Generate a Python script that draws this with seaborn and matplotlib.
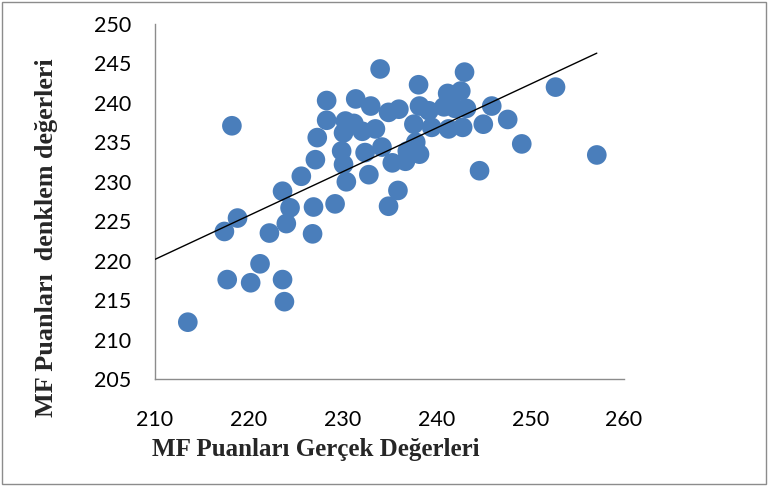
import numpy as np
import matplotlib
matplotlib.use("Agg")
import matplotlib.pyplot as plt
import seaborn as sns
from matplotlib.patches import Rectangle

# MF Puanları: gerçek değerler (x) ve denklem değerleri (y)
gercek = [213.5, 217.7, 220.2, 223.6, 223.8, 221.2, 217.4, 218.8, 222.2, 224.0,
          224.4, 226.8, 226.9, 229.2, 223.6, 225.6, 218.2, 227.1, 227.3, 228.3,
          228.3, 230.4, 230.1, 229.9, 230.1, 230.3, 231.2, 232.1, 231.4, 233.0,
          234.0, 233.5, 232.4, 232.8, 234.2, 234.9, 235.9, 235.3, 236.7, 236.9,
          237.8, 238.2, 234.9, 236.0, 238.1, 237.6, 238.2, 239.2, 239.5, 240.8,
          241.2, 242.6, 242.0, 243.2, 243.0, 241.3, 242.8, 245.0, 245.9, 247.6,
          249.1, 244.6, 252.7, 257.1]
denklem = [212.2, 217.6, 217.2, 217.6, 214.8, 219.6, 223.7, 225.4, 223.5, 224.7,
           226.7, 223.4, 226.8, 227.2, 228.8, 230.7, 237.1, 232.8, 235.6, 237.8,
           240.3, 230.0, 232.2, 233.9, 236.2, 237.7, 237.4, 236.4, 240.5, 239.6,
           244.3, 236.7, 233.7, 230.9, 234.4, 226.9, 228.9, 232.4, 232.6, 233.9,
           235.0, 233.5, 238.8, 239.2, 242.3, 237.3, 239.6, 239.0, 236.9, 239.5,
           241.2, 241.5, 239.3, 239.3, 243.9, 236.7, 236.9, 237.3, 239.6, 237.9,
           234.8, 231.4, 242.0, 233.4]

x_ticks = [210, 220, 230, 240, 250, 260]
y_ticks = [205, 210, 215, 220, 225, 230, 235, 240, 245, 250]

sns.set_style("white")
plt.rcParams["font.family"] = ["Liberation Serif", "DejaVu Serif"]

fig = plt.figure(figsize=(7.68, 4.86), dpi=100)
ax = fig.add_axes([0.2018, 0.2202, 0.6107, 0.7304])

sns.scatterplot(x=gercek, y=denklem, ax=ax, color="#4a7ebb", s=200,
                edgecolor="none", linewidth=0, zorder=2)

# linear trendline (least squares), drawn from the axis start to the last point
coef = np.polyfit(gercek, denklem, 1)
xs = np.array([x_ticks[0], max(gercek)])
ax.plot(xs, np.polyval(coef, xs), color="black", linewidth=1.0, zorder=3)

ax.set_xlim(x_ticks[0], x_ticks[-1])
ax.set_ylim(y_ticks[0], y_ticks[-1])
ax.set_xticks(x_ticks)
ax.set_yticks(y_ticks)
ax.tick_params(axis="both", direction="out", length=5, width=1, color="#8c8c8c")
ax.tick_params(axis="x", pad=17)
ax.tick_params(axis="y", pad=12)
for lbl in ax.get_xticklabels() + ax.get_yticklabels():
    lbl.set_fontfamily(["Lato", "DejaVu Sans"])
    lbl.set_fontsize(15.5)
    lbl.set_color("black")
for side in ["top", "right"]:
    ax.spines[side].set_visible(False)
for side in ["left", "bottom"]:
    ax.spines[side].set_color("#8c8c8c")
    ax.spines[side].set_linewidth(1)

fig.text(316 / 768, 1 - 449 / 486, "MF Puanları Gerçek Değerleri",
         ha="center", va="center", fontsize=18, fontweight="bold")
fig.text(47 / 768, 1 - 238 / 486, "MF Puanları  denklem değerleri",
         ha="center", va="center", rotation=90, fontsize=18.8, fontweight="bold")

fig.patches.append(Rectangle((0.003, 0.005), 0.994, 0.99, transform=fig.transFigure,
                             fill=False, edgecolor="#8c8c8c", linewidth=1))

fig.savefig("out.png", dpi=100)
